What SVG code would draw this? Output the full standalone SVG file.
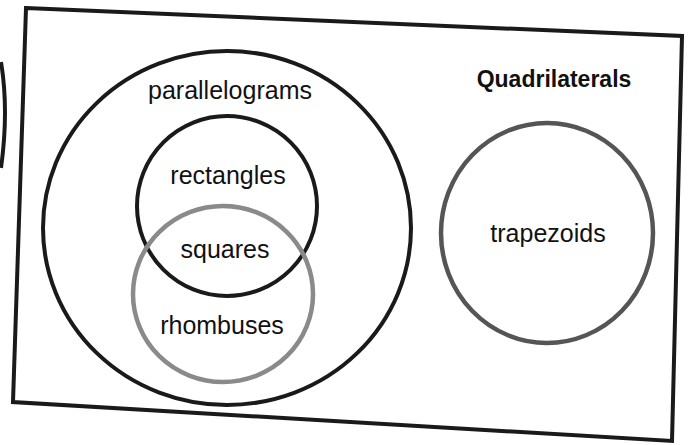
<svg xmlns="http://www.w3.org/2000/svg" width="688" height="445" viewBox="0 0 688 445">
<style>
.frame{fill:none;stroke:#1a1a1a;stroke-width:4}
.c{fill:none;stroke:#1a1a1a;stroke-width:4}
.g{fill:none;stroke:#8a8a8a;stroke-width:4.5}
.t{font-family:"Liberation Sans",Arial,sans-serif;font-size:25px;fill:#111;text-anchor:middle}
.b{font-weight:bold;font-size:23px}
</style>
<rect width="688" height="445" fill="#fff"/>
<polygon class="frame" points="26,8 682,36 672,441 13,402"/>
<path d="M1,62 Q9,110 1,168" fill="none" stroke="#1a1a1a" stroke-width="4"/>
<g id="parallelograms">
<ellipse class="c" cx="227" cy="228" rx="184" ry="177"/>
<text class="t" x="230" y="99">parallelograms</text>
</g>
<g id="rectangles">
<ellipse class="c" cx="227" cy="206" rx="90" ry="90"/>
<text class="t" x="228" y="184">rectangles</text>
</g>
<g id="rhombuses">
<ellipse class="g" cx="223" cy="294" rx="90" ry="88"/>
<text class="t" x="222" y="334">rhombuses</text>
</g>
<g id="squares">
<text class="t" x="225" y="258">squares</text>
</g>
<g id="trapezoids">
<ellipse class="g" cx="547" cy="233" rx="106" ry="110" style="stroke:#555"/>
<text class="t" x="548" y="242">trapezoids</text>
</g>
<g id="quadrilaterals">
<text class="t b" x="554" y="87">Quadrilaterals</text>
</g>
<g id="connectors"></g>
</svg>
